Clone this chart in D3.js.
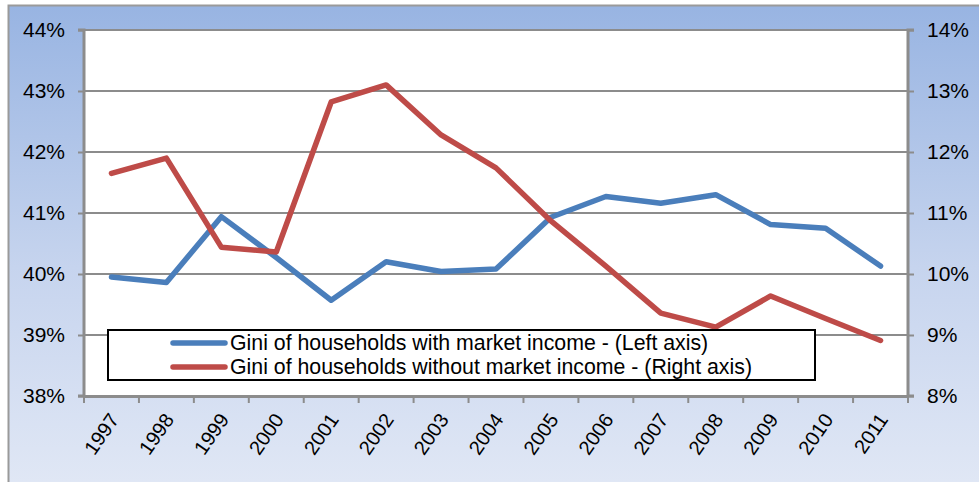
<!DOCTYPE html>
<html>
<head>
<meta charset="utf-8">
<script src="https://cdn.jsdelivr.net/npm/d3@7"></script>
<style>
  html, body { margin: 0; padding: 0; background: #ffffff; }
  svg { display: block; font-family: "Liberation Sans", Arial, sans-serif; }
</style>
</head>
<body>
<svg id="chart" width="979" height="482"></svg>
<script>
// Years on the category axis
const years = ["1997","1998","1999","2000","2001","2002","2003","2004","2005","2006","2007","2008","2009","2010","2011"];
// Gini of households with market income (left axis, %)
const giniWithMarket = [39.95, 39.86, 40.94, 40.27, 39.57, 40.20, 40.04, 40.08, 40.93, 41.27, 41.16, 41.30, 40.81, 40.75, 40.13];
// Gini of households without market income (right axis, %)
const giniWithoutMarket = [11.65, 11.90, 10.44, 10.36, 12.82, 13.10, 12.28, 11.74, 10.87, 10.13, 9.36, 9.13, 9.64, 9.27, 8.91];
// Axis ticks
const leftTicks = [38, 39, 40, 41, 42, 43, 44];
const rightTicks = [8, 9, 10, 11, 12, 13, 14];
const seriesNames = [
  "Gini of households with market income - (Left axis)",
  "Gini of households without market income - (Right axis)"
];
const seriesColors = ["#4a7ebb", "#be4b48"];

const W = 979, H = 482;
const plot = { left: 84, top: 30, right: 908, bottom: 396 };
const svg = d3.select("#chart");
const fontFamily = "'Liberation Sans', Arial, sans-serif";

// Chart area background: blue gradient fading downward
const defs = svg.append("defs");
const grad = defs.append("linearGradient").attr("id", "bg").attr("x1", 0).attr("y1", 0).attr("x2", 0).attr("y2", 1);
grad.append("stop").attr("offset", "0%").attr("stop-color", "#98b4e2");
grad.append("stop").attr("offset", "55%").attr("stop-color", "#c6d4ee");
grad.append("stop").attr("offset", "100%").attr("stop-color", "#e0e7f5");

svg.append("rect").attr("x", 8).attr("y", 5).attr("width", W - 8).attr("height", H - 5)
  .attr("fill", "url(#bg)");
svg.append("path").attr("d", `M8.5,${H} V5.5 H${W}`).attr("fill", "none")
  .attr("stroke", "#9a9a9a").attr("stroke-width", 2);

// Plot area
svg.append("rect").attr("x", plot.left).attr("y", plot.top)
  .attr("width", plot.right - plot.left).attr("height", plot.bottom - plot.top).attr("fill", "#ffffff");

const x = d3.scaleBand().domain(years).range([plot.left, plot.right]);
const yL = d3.scaleLinear().domain([38, 44]).range([plot.bottom, plot.top]);
const yR = d3.scaleLinear().domain([8, 14]).range([plot.bottom, plot.top]);

// Horizontal gridlines
svg.append("g").selectAll("line").data(leftTicks.slice(1)).join("line")
  .attr("x1", plot.left).attr("x2", plot.right)
  .attr("y1", d => yL(d)).attr("y2", d => yL(d))
  .attr("stroke", "#8c8c8c").attr("stroke-width", 2);

const axisColor = "#8c8c8c";
const fontSize = 21;

// Left axis
const gL = svg.append("g").attr("transform", `translate(${plot.left},0)`)
  .call(d3.axisLeft(yL).tickValues(leftTicks).tickSize(6).tickPadding(13).tickFormat(d => d + "%"));
// Right axis
const gR = svg.append("g").attr("transform", `translate(${plot.right},0)`)
  .call(d3.axisRight(yR).tickValues(rightTicks).tickSize(6).tickPadding(13).tickFormat(d => d + "%"));
// Bottom axis
const gB = svg.append("g").attr("transform", `translate(0,${plot.bottom})`)
  .call(d3.axisBottom(x).tickSize(0).tickFormat(d => d));

[gL, gR, gB].forEach(g => {
  g.attr("font-family", fontFamily);
  g.select(".domain").attr("stroke", axisColor).attr("stroke-width", 3);
  g.selectAll(".tick line").attr("stroke", axisColor).attr("stroke-width", 2);
  g.selectAll(".tick text").attr("fill", "#000").attr("font-size", fontSize)
    .attr("font-family", fontFamily);
});
gL.select(".domain").attr("d", `M-6,${plot.top}H0V${plot.bottom}H-6`);
gR.select(".domain").attr("d", `M6,${plot.top}H0V${plot.bottom}H6`);

// Category tick marks at band boundaries
const bounds = years.map(y => x(y)).concat([plot.right]);
svg.append("g").selectAll("line").data(bounds).join("line")
  .attr("x1", d => d).attr("x2", d => d)
  .attr("y1", plot.bottom).attr("y2", plot.bottom + 7)
  .attr("stroke", axisColor).attr("stroke-width", 2);

// Rotated year labels
gB.selectAll(".tick text")
  .attr("font-size", 20)
  .attr("text-anchor", "end")
  .attr("dy", 0)
  .attr("transform", "translate(6,22) rotate(-55)");

// Lines
const lineL = d3.line().x((d, i) => x(years[i]) + x.bandwidth() / 2).y(d => yL(d));
const lineR = d3.line().x((d, i) => x(years[i]) + x.bandwidth() / 2).y(d => yR(d));

svg.append("path").datum(giniWithMarket).attr("d", lineL)
  .attr("fill", "none").attr("stroke", seriesColors[0]).attr("stroke-width", 5.5)
  .attr("stroke-linejoin", "round").attr("stroke-linecap", "round");
svg.append("path").datum(giniWithoutMarket).attr("d", lineR)
  .attr("fill", "none").attr("stroke", seriesColors[1]).attr("stroke-width", 5.5)
  .attr("stroke-linejoin", "round").attr("stroke-linecap", "round");

// Legend
const legend = svg.append("g");
legend.append("rect").attr("x", 108).attr("y", 330).attr("width", 707).attr("height", 50)
  .attr("fill", "#ffffff").attr("stroke", "#000").attr("stroke-width", 2);
seriesNames.forEach((name, i) => {
  const cy = 343 + i * 24;
  legend.append("line").attr("x1", 173).attr("x2", 225).attr("y1", cy).attr("y2", cy)
    .attr("stroke", seriesColors[i]).attr("stroke-width", 5.5).attr("stroke-linecap", "round");
  legend.append("text").attr("x", 230).attr("y", cy).attr("dy", "0.35em")
    .attr("font-family", fontFamily).attr("font-size", 21.3).attr("fill", "#000").text(name);
});
</script>
</body>
</html>
